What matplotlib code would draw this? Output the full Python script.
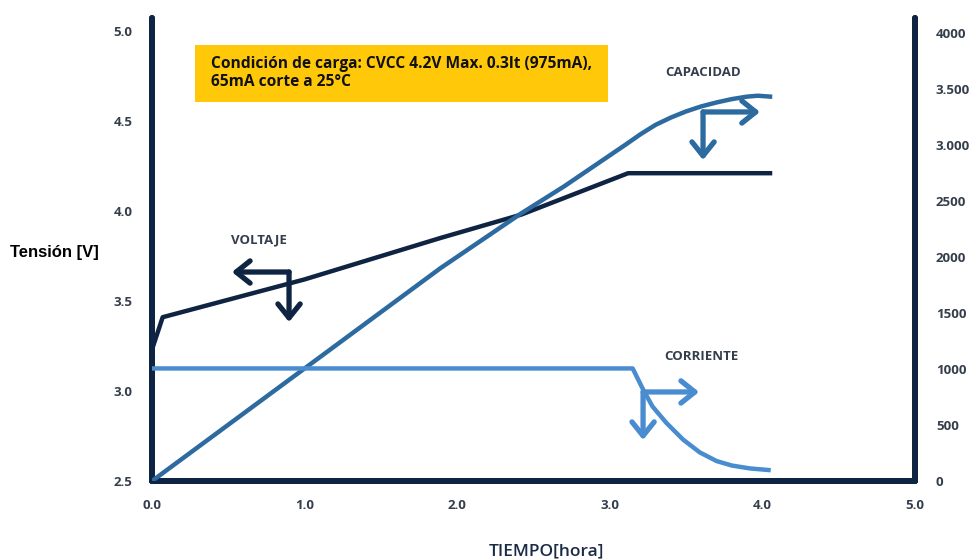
import matplotlib.pyplot as plt
import numpy as np

# curves
volt_t = [0.0, 0.07, 1.0, 1.89, 2.42, 3.12, 4.05]
volt_v = [3.23, 3.41, 3.62, 3.85, 3.98, 4.21, 4.21]

cap_t = [0.0, 1.0, 1.89, 2.42, 2.7, 2.9, 3.1, 3.2, 3.3, 3.4, 3.5, 3.6, 3.7, 3.8, 3.9, 3.97, 4.05]
cap_mah = [0, 1005, 1900, 2390, 2630, 2815, 3000, 3095, 3180, 3245, 3300, 3345, 3380, 3410, 3432, 3440, 3432]

cur_t = [0.0, 3.15, 3.22, 3.28, 3.37, 3.48, 3.59, 3.70, 3.80, 3.92, 4.04]
cur_ma = [1005, 1005, 812, 665, 520, 370, 255, 178, 138, 112, 98]

x_ticks = [0, 1, 2, 3, 4, 5]
x_labels = ['0.0', '1.0', '2.0', '3.0', '4.0', '5.0']
v_ticks = [2.5, 3.0, 3.5, 4.0, 4.5, 5.0]
v_labels = ['2.5', '3.0', '3.5', '4.0', '4.5', '5.0']
r_ticks = [0, 500, 1000, 1500, 2000, 2500, 3000, 3500, 4000]
r_labels = ['0', '500', '1000', '1500', '2000', '2500', '3.000', '3.500', '4000']

navy = '#0e2442'
cap_col = '#2c6aa0'
cur_col = '#4a8cd0'
tick_col = '#353e4c'

plt.rcParams['font.family'] = ['Open Sans', 'DejaVu Sans']

fig = plt.figure(figsize=(9.72, 5.6), dpi=100)
ax = fig.add_axes([152/972, 1-481/560, (915-152)/972, (481-18)/560])
ax2 = ax.twinx()

ax.set_xlim(0, 5)
ax.set_ylim(2.5, 2.5 + (481-18)/180)
ax2.set_ylim(0, (481-18)/0.112)

ax.plot(volt_t, volt_v, color=navy, lw=3.2, solid_joinstyle='round', zorder=3)
ax2.plot(cap_t, cap_mah, color=cap_col, lw=3.2, solid_joinstyle='round', zorder=3)
ax2.plot(cur_t, cur_ma, color=cur_col, lw=3.2, solid_joinstyle='round', zorder=3)

for a in (ax, ax2):
    a.spines['top'].set_visible(False)
    for s in ['left', 'right', 'bottom']:
        a.spines[s].set_linewidth(4.3)
        a.spines[s].set_color(navy)
        a.spines[s].set_capstyle('round')
    a.tick_params(length=0)

ax.set_xticks(x_ticks)
ax.set_xticklabels(x_labels)
ax.set_yticks(v_ticks)
ax.set_yticklabels(v_labels)
ax2.set_yticks(r_ticks)
ax2.set_yticklabels(r_labels)
ax.tick_params(axis='x', pad=13, labelsize=9.5, labelcolor=tick_col)
ax.tick_params(axis='y', pad=14, labelsize=9.5, labelcolor=tick_col)
ax2.tick_params(axis='y', pad=15, labelsize=9.5, labelcolor=tick_col)
for lab in ax.get_xticklabels() + ax.get_yticklabels() + ax2.get_yticklabels():
    lab.set_fontweight('bold')


def l_arrow(a, corner, side_tip, down_tip, col):
    props = dict(arrowstyle='->,head_length=0.5,head_width=0.4', lw=3.8,
                 color=col, mutation_scale=20, shrinkA=0, shrinkB=0,
                 capstyle='round', joinstyle='round')
    a.annotate('', xy=(side_tip, corner[1]), xytext=corner, arrowprops=props, zorder=4)
    a.annotate('', xy=(corner[0], down_tip), xytext=corner, arrowprops=props, zorder=4)


l_arrow(ax, (0.898, 3.661), 0.524, 3.383, navy)
l_arrow(ax2, (3.611, 3295), 3.984, 2866, cap_col)
l_arrow(ax2, (3.218, 795), 3.585, 366, cur_col)

lab_kw = dict(fontsize=9.5, fontweight='bold', color=tick_col, ha='center', va='center')
fig.text(259/972, 1-240/560, 'VOLTAJE', **lab_kw)
fig.text(703/972, 1-72/560, 'CAPACIDAD', **lab_kw)
fig.text(701/972, 1-357/560, 'CORRIENTE', **lab_kw)

fig.patches.append(plt.Rectangle((195/972, 1-102/560), (608-195)/972, 57/560,
                                 transform=fig.transFigure, facecolor='#ffc90a',
                                 edgecolor='none', zorder=5))
fig.text(211/972, 1-73/560, 'Condición de carga: CVCC 4.2V Max. 0.3lt (975mA),\n65mA corte a 25°C',
         fontsize=11.2, fontweight='bold', color='#111111', ha='left', va='center',
         linespacing=1.15, zorder=6)

fig.text(10/972, 1-253/560, 'Tensión [V]', family='Liberation Sans', fontsize=12,
         fontweight='bold', color='black', ha='left', va='center')
fig.text(546/972, 1-551/560, 'TIEMPO[hora]', fontsize=12.5, fontweight='semibold',
         color='#1c2b45', ha='center', va='center')

fig.savefig('out.png', dpi=100)
